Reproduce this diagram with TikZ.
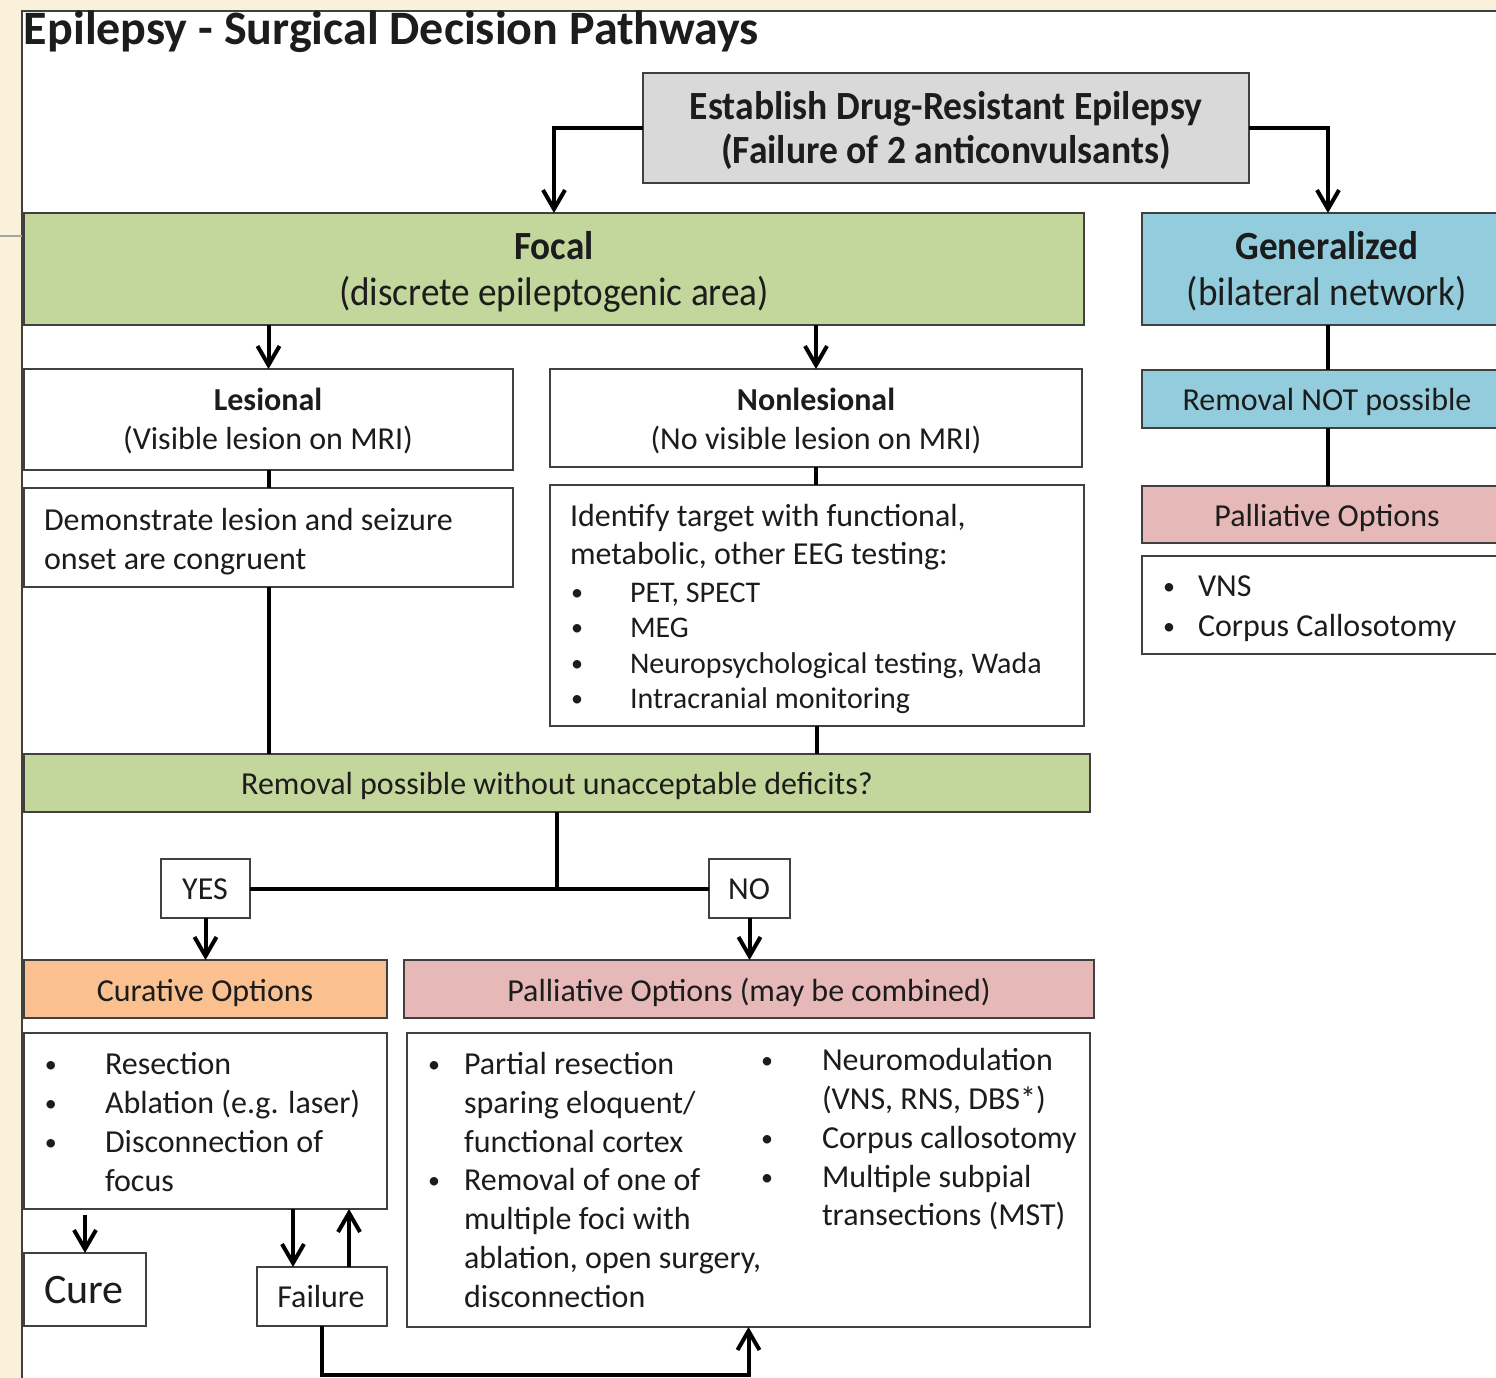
\documentclass[tikz,border=0pt]{standalone}
\usepackage{fontspec}
\setmainfont{Carlito}
\newfontfamily\narrowA[FakeStretch=0.94]{Carlito}
\newfontfamily\narrowB[FakeStretch=0.93]{Carlito}
\usetikzlibrary{arrows.meta,fit,calc}
\definecolor{cream}{RGB}{250,241,218}
\definecolor{bordc}{RGB}{64,64,64}
\definecolor{txtc}{RGB}{28,28,28}
\definecolor{grayfill}{RGB}{217,217,217}
\definecolor{greenfill}{RGB}{195,214,155}
\definecolor{bluefill}{RGB}{147,205,221}
\definecolor{orangefill}{RGB}{250,192,144}
\definecolor{pinkfill}{RGB}{230,185,184}
\tikzset{
  box/.style={draw=bordc, line width=1pt, inner sep=0pt, outer sep=0pt},
  txt/.style={inner sep=0pt, outer sep=0pt, text=txtc, font=\fontsize{16}{19}\selectfont},
  lst/.style={txt, font=\fontsize{15}{18}\selectfont},
  bul/.style={txt, font=\fontsize{12}{14}\selectfont},
  head/.style={txt, font=\fontsize{20}{24}\narrowB},
  headb/.style={txt, font=\fontsize{20}{24}\narrowB\bfseries},
  conn/.style={line width=2pt, draw=black},
  arr/.style={conn, -{Straight Barb[length=9.5pt,width=11pt]}},
}
\newcommand\bx[6]{\node[box,#2,fit={(#3,#4)(#5,#6)}] (#1) {};}
\newcommand\tc[5][txt]{\node[#1,anchor=base] (#2) at (#3,#4) {#5};}
\newcommand\tw[5][txt]{\node[#1,anchor=base west] (#2) at (#3,#4) {#5};}
\begin{document}
\begin{tikzpicture}[x=0.5pt,y=-0.5pt]
\useasboundingbox (0,0) rectangle (1496,1378);
\clip (0,0) rectangle (1496,1378);
% slide background
\fill[cream] (0,0) rectangle (1496,1378);
\fill[white] (22,11) rectangle (1496,1378);
\draw[bordc, line width=1pt] (22,1378) -- (22,11) -- (1496,11);
\draw[gray!70, line width=0.6pt] (0,236) -- (22,236);
% title
\tw[txt,font=\fontsize{24}{28}\selectfont\bfseries]{title}{24}{44}{Epilepsy - Surgical Decision Pathways}
% boxes
\bx{est}{fill=grayfill}{643}{73}{1249}{183}
\bx{focal}{fill=greenfill}{24}{213}{1084}{325}
\bx{gen}{fill=bluefill}{1142}{213}{1514}{325}
\bx{les}{fill=white}{24}{369}{513}{470}
\bx{nonles}{fill=white}{550}{369}{1082}{467}
\bx{dem}{fill=white}{24}{488}{513}{587}
\bx{ident}{fill=white}{550}{485}{1084}{726}
\bx{rem}{fill=greenfill}{24}{754}{1090}{812}
\bx{yes}{fill=white}{161}{859}{250}{918}
\bx{no}{fill=white}{709}{859}{790}{918}
\bx{cur}{fill=orangefill}{24}{960}{387}{1018}
\bx{pal}{fill=pinkfill}{404}{960}{1094}{1018}
\bx{curlist}{fill=white}{24}{1033}{387}{1209}
\bx{pallist}{fill=white}{407}{1033}{1090}{1327}
\bx{cure}{fill=white}{24}{1253}{146}{1326}
\bx{fail}{fill=white}{257}{1267}{387}{1326}
\bx{remnot}{fill=bluefill}{1142}{370}{1514}{428}
\bx{paltwo}{fill=pinkfill}{1142}{486}{1514}{543}
\bx{vns}{fill=white}{1142}{556}{1514}{654}
% texts
\tc[txt,font=\fontsize{20}{24}\narrowA\bfseries]{est1}{946}{119}{Establish Drug-Resistant Epilepsy}
\tc[txt,font=\fontsize{20}{24}\narrowA\bfseries]{est2}{946}{163}{(Failure of 2 anticonvulsants)}
\tc[headb]{foc1}{554}{259}{Focal}
\tc[head]{foc2}{554}{305}{(discrete epileptogenic area)}
\tc[headb]{gen1}{1327}{259}{Generalized}
\tc[head]{gen2}{1327}{305}{(bilateral network)}
\tc[txt,font=\fontsize{16}{19}\selectfont\bfseries]{les1}{268}{410}{Lesional}
\tc{les2}{268}{449}{(Visible lesion on MRI)}
\tc[txt,font=\fontsize{16}{19}\selectfont\bfseries]{non1}{816}{410}{Nonlesional}
\tc{non2}{816}{449}{(No visible lesion on MRI)}
\tw{dem1}{44}{530}{Demonstrate lesion and seizure}
\tw{dem2}{44}{569}{onset are congruent}
\tw{id1}{570}{526}{Identify target with functional,}
\tw{id2}{570}{564}{metabolic, other EEG testing:}
\tw[bul]{idb1}{571}{600}{•}\tw[lst]{id3}{630}{602}{PET, SPECT}
\tw[bul]{idb2}{571}{635}{•}\tw[lst]{id4}{630}{637}{MEG}
\tw[bul]{idb3}{571}{671}{•}\tw[lst]{id5}{630}{673}{Neuropsychological testing, Wada}
\tw[bul]{idb4}{571}{706}{•}\tw[lst]{id6}{630}{708}{Intracranial monitoring}
\tc{remq}{557}{794}{Removal possible without unacceptable deficits?}
\tc{yest}{205}{899}{YES}
\tc{not}{749}{899}{NO}
\tc{curt}{205}{1001}{Curative Options}
\tc{palt}{749}{1001}{Palliative Options (may be combined)}
\tw[bul]{cb1}{45}{1072}{•}\tw{c1}{105}{1074}{Resection}
\tw[bul]{cb2}{45}{1111}{•}\tw{c2}{105}{1113}{Ablation (e.g. laser)}
\tw[bul]{cb3}{45}{1150}{•}\tw{c3}{105}{1152}{Disconnection of}
\tw{c4}{105}{1191}{focus}
\tw[bul]{pb1}{428}{1072}{•}\tw{p1}{464}{1074}{Partial resection}
\tw{p2}{464}{1113}{sparing eloquent/}
\tw{p3}{464}{1152}{functional cortex}
\tw[bul]{pb2}{428}{1188}{•}\tw{p4}{464}{1190}{Removal of one of}
\tw{p5}{464}{1229}{multiple foci with}
\tw{p6}{464}{1268}{ablation, open surgery,}
\tw{p7}{464}{1307}{disconnection}
\tw[bul]{qb1}{761}{1068}{•}\tw{q1}{822}{1070}{Neuromodulation}
\tw{q2}{822}{1109}{(VNS, RNS, DBS*)}
\tw[bul]{qb2}{761}{1146}{•}\tw{q3}{822}{1148}{Corpus callosotomy}
\tw[bul]{qb3}{761}{1185}{•}\tw{q4}{822}{1187}{Multiple subpial}
\tw{q5}{822}{1225}{transections (MST)}
\tw[txt,font=\fontsize{21}{25}\selectfont]{curet}{44}{1303}{Cure}
\tc{failt}{321}{1307}{Failure}
\tc{remnott}{1327}{410}{Removal NOT possible}
\tc{paltwot}{1327}{526}{Palliative Options}
\tw[bul]{vb1}{1163}{594}{•}\tw{v1}{1198}{596}{VNS}
\tw[bul]{vb2}{1163}{634}{•}\tw{v2}{1198}{636}{Corpus Callosotomy}
% connectors
\coordinate (bot) at (0,1375);
\coordinate (fdown) at ($(fail.north west)!0.277!(fail.north east)$);
\coordinate (fup) at ($(fail.north west)!0.708!(fail.north east)$);
\draw[arr] (est.west) -| (focal.north);
\draw[arr] (est.east) -| (gen.north);
\draw[arr] (focal.south -| les.north) -- (les.north);
\draw[arr] (focal.south -| nonles.north) -- (nonles.north);
\draw[conn] (les.south) -- (dem.north);
\draw[conn] (nonles.south) -- (nonles.south |- ident.north);
\draw[conn] (dem.south) -- (dem.south |- rem.north);
\draw[conn] (ident.south) -- (ident.south |- rem.north);
\draw[conn] (rem.south) -- (rem.south |- yes.east);
\draw[conn] (yes.east) -- (no.west);
\draw[arr] (yes.south) -- (yes.south |- cur.north);
\draw[arr] (no.south) -- (no.south |- pal.north);
\draw[arr, shorten <=3pt] (curlist.south -| cure.north) -- (cure.north);
\draw[arr] (fdown |- curlist.south) -- (fdown);
\draw[arr] (fup) -- (fup |- curlist.south);
\draw[arr] (fail.south) |- (bot -| pallist.south) -- (pallist.south);
\draw[conn] (gen.south) -- (remnot.north);
\draw[conn] (remnot.south) -- (paltwo.north);
\end{tikzpicture}
\end{document}
